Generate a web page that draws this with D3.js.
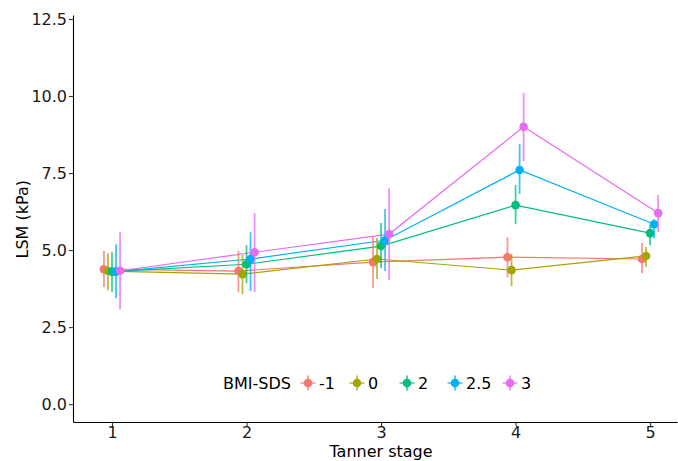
<!DOCTYPE html>
<html>
<head>
<meta charset="utf-8">
<script src="https://cdn.jsdelivr.net/npm/d3@7"></script>
<style>
  body { margin: 0; background: #fff; }
  text { font-family: "DejaVu Sans", sans-serif; }
</style>
</head>
<body>
<div id="wrapper"></div>
<script>
// data
const stages = [1, 2, 3, 4, 5]
const groups = ["-1", "0", "2", "2.5", "3"]
const colors = ["#F8766D", "#A3A500", "#00BF7D", "#00B0F6", "#E76BF3"]

const lsmMean = [
  [4.38, 4.32, 4.61, 4.77, 4.71],
  [4.32, 4.22, 4.71, 4.35, 4.81],
  [4.30, 4.54, 5.13, 6.46, 5.55],
  [4.30, 4.71, 5.32, 7.60, 5.84],
  [4.33, 4.93, 5.52, 9.00, 6.20],
]
const lsmLow = [
  [3.80, 3.63, 3.77, 4.12, 4.25],
  [3.70, 3.57, 4.06, 3.83, 4.45],
  [3.64, 3.93, 4.42, 5.84, 5.16],
  [3.44, 3.67, 4.32, 6.82, 5.39],
  [3.08, 3.64, 4.03, 7.89, 5.58],
]
const lsmHigh = [
  [4.97, 4.97, 5.42, 5.42, 5.23],
  [4.90, 4.84, 5.39, 4.87, 5.10],
  [4.93, 5.16, 5.88, 7.11, 5.81],
  [5.19, 5.58, 6.33, 8.44, 6.00],
  [5.58, 6.20, 7.00, 10.10, 6.79],
]
const yTicks = [0, 2.5, 5, 7.5, 10, 12.5]

// dimensions
let dimensions = {
  width: 678,
  height: 461,
  margins: { top: 15, right: 1, bottom: 39, left: 73 },
}
dimensions.boundedWidth = dimensions.width - dimensions.margins.left - dimensions.margins.right
dimensions.boundedHeight = dimensions.height - dimensions.margins.top - dimensions.margins.bottom

const wrapper = d3.select("#wrapper")
  .append("svg")
  .attr("width", dimensions.width)
  .attr("height", dimensions.height)

const bounds = wrapper.append("g")
  .attr("transform", `translate(${dimensions.margins.left},${dimensions.margins.top})`)

// scales
const xScale = d3.scaleLinear()
  .domain([0.71, 5.2])
  .range([0, dimensions.boundedWidth])

const yScale = d3.scaleLinear()
  .domain([-0.58, 12.63])
  .range([dimensions.boundedHeight, 0])

const dodge = d3.scalePoint()
  .domain(groups)
  .range([-0.06, 0.06])

const series = groups.map((g, i) => ({
  group: g,
  color: colors[i],
  values: stages.map((s, j) => ({
    x: s + dodge(g),
    mean: lsmMean[i][j],
    low: lsmLow[i][j],
    high: lsmHigh[i][j],
  })),
}))

const lineGen = d3.line()
  .x(d => xScale(d.x))
  .y(d => yScale(d.mean))

// lines
bounds.selectAll(".series-line")
  .data(series)
  .join("path")
  .attr("class", "series-line")
  .attr("fill", "none")
  .attr("stroke", d => d.color)
  .attr("stroke-width", 1.2)
  .attr("d", d => lineGen(d.values))

// error bars + points
const groupsG = bounds.selectAll(".series")
  .data(series)
  .join("g")
  .attr("class", "series")

groupsG.selectAll("line")
  .data(d => d.values.map(v => ({ ...v, color: d.color })))
  .join("line")
  .attr("x1", d => xScale(d.x))
  .attr("x2", d => xScale(d.x))
  .attr("y1", d => yScale(d.low))
  .attr("y2", d => yScale(d.high))
  .attr("stroke", d => d.color)
  .attr("stroke-width", 1.8)
  .attr("stroke-opacity", 0.75)

groupsG.selectAll("circle")
  .data(d => d.values.map(v => ({ ...v, color: d.color })))
  .join("circle")
  .attr("cx", d => xScale(d.x))
  .attr("cy", d => yScale(d.mean))
  .attr("r", 4.3)
  .attr("fill", d => d.color)

// axes
const xAxis = d3.axisBottom(xScale).tickValues(stages).tickFormat(d3.format("d")).tickSize(4).tickSizeOuter(0)
const yAxis = d3.axisLeft(yScale).tickValues(yTicks).tickFormat(d3.format(".1f")).tickSize(4).tickSizeOuter(0)

const xAxisG = bounds.append("g")
  .attr("transform", `translate(0,${dimensions.boundedHeight})`)
  .call(xAxis)
const yAxisG = bounds.append("g").call(yAxis)

;[xAxisG, yAxisG].forEach(g => {
  g.select(".domain").attr("stroke", "#000").attr("stroke-width", 1.1)
  g.selectAll(".tick line").attr("stroke", "#333").attr("stroke-width", 1.1)
  g.selectAll(".tick text")
    .attr("fill", "#1a1a1a")
    .style("font-size", "16px")
})
xAxisG.selectAll(".tick text").attr("y", 5)
yAxisG.selectAll(".tick text").attr("x", -6)

// axis titles
wrapper.append("text")
  .attr("x", dimensions.margins.left + xScale(3))
  .attr("y", 457)
  .attr("text-anchor", "middle")
  .style("font-size", "16px")
  .attr("fill", "#000")
  .text("Tanner stage")

wrapper.append("text")
  .attr("transform", `translate(28,${dimensions.margins.top + yScale(6)}) rotate(-90)`)
  .attr("text-anchor", "middle")
  .style("font-size", "16px")
  .attr("fill", "#000")
  .text("LSM (kPa)")

// legend
const legend = wrapper.append("g").attr("transform", "translate(0,383)")
legend.append("text")
  .attr("x", 223)
  .attr("dy", "0.35em")
  .style("font-size", "16px")
  .text("BMI-SDS")

const keyX = [308, 357, 407, 455, 510]
const items = legend.selectAll(".item")
  .data(series)
  .join("g")
  .attr("class", "item")
  .attr("transform", (d, i) => `translate(${keyX[i]},0)`)

items.append("line")
  .attr("x1", -7.5).attr("x2", 7.5)
  .attr("stroke", d => d.color).attr("stroke-width", 1.2)
items.append("line")
  .attr("y1", -7.5).attr("y2", 7.5)
  .attr("stroke", d => d.color).attr("stroke-width", 1.8).attr("stroke-opacity", 0.75)
items.append("circle")
  .attr("r", 4.3)
  .attr("fill", d => d.color)
items.append("text")
  .attr("x", 11)
  .attr("dy", "0.35em")
  .style("font-size", "16px")
  .text(d => d.group)
</script>
</body>
</html>
